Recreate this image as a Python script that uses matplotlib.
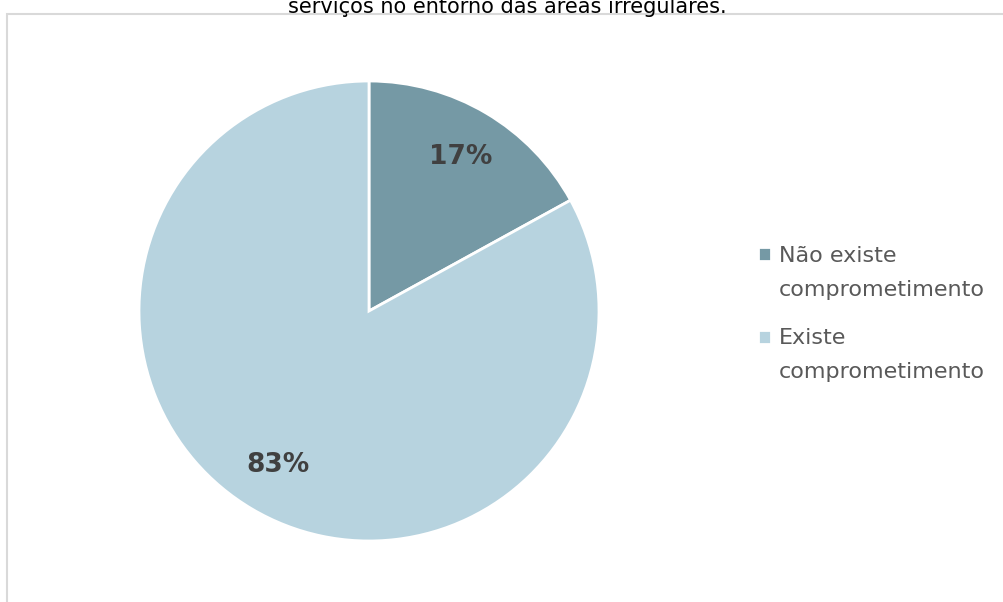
import matplotlib
matplotlib.use("Agg")
import matplotlib.pyplot as plt
from matplotlib.patches import Rectangle
from matplotlib.legend_handler import HandlerPatch

# dados
categorias = ["Não existe\ncomprometimento", "Existe\ncomprometimento"]
valores = [17, 83]
cores = ["#7599A5", "#B7D3DF"]
titulo = "serviços no entorno das áreas irregulares."

W, H = 1004, 602
fig = plt.figure(figsize=(W / 100, H / 100), dpi=100)
plt.rcParams["font.family"] = ["DejaVu Sans"]

# moldura da área do gráfico (cortada à direita e embaixo)
fig.patches.append(Rectangle((7.5 / W, -0.1), 1.2, 1.1 - 14 / H,
                             transform=fig.transFigure, fill=False,
                             edgecolor="#D9D9D9", linewidth=1.5))

# título, parcialmente fora da figura
fig.text(507 / W, 1 - 6 / H, titulo, ha="center", va="center",
         fontsize=15, color="#000000")

# pizza
cx, cy, r = 369, 602 - 311, 230
ax = fig.add_axes([(cx - r) / W, (cy - r) / H, 2 * r / W, 2 * r / H])
wedges, texts, autotexts = ax.pie(
    valores, colors=cores, startangle=90, counterclock=False,
    autopct="%1.0f%%", pctdistance=0.78,
    wedgeprops=dict(edgecolor="white", linewidth=2))
for t in autotexts:
    t.set_fontsize(19)
    t.set_fontweight("bold")
    t.set_color("#404040")
ax.set_xlim(-1, 1)
ax.set_ylim(-1, 1)
ax.set_aspect("equal")


# quadradinho da legenda alinhado à primeira linha do rótulo
def quadrado_topo(legend, orig_handle, xdescent, ydescent, width, height, fontsize):
    return Rectangle((-xdescent, -ydescent + 0.85 * fontsize), width, height)


leg = fig.legend(wedges, categorias, loc="upper left",
                 bbox_to_anchor=(738 / W, 1 - 226 / H),
                 frameon=False, fontsize=16, labelcolor="#595959",
                 handlelength=0.6, handleheight=0.6, handletextpad=0.35,
                 labelspacing=1.3,
                 handler_map={w: HandlerPatch(patch_func=quadrado_topo) for w in wedges})
for t in leg.get_texts():
    t.set_linespacing(1.85)

fig.savefig("out.png", dpi=100)
